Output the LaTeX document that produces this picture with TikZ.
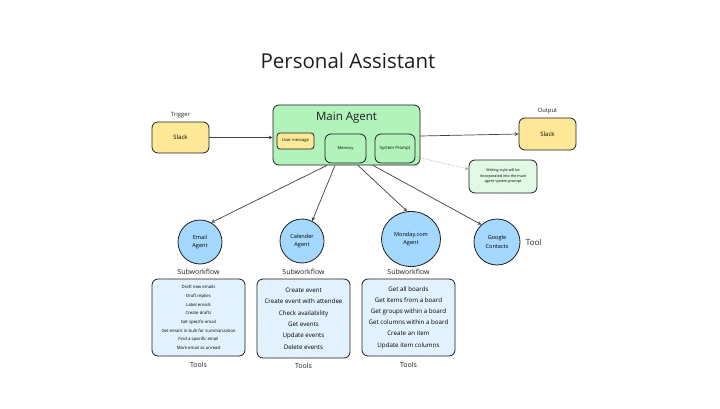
\documentclass[tikz,border=0pt]{standalone}
\usepackage{fontspec}
\setmainfont{Open Sans}
\usepackage{tikz}
\usetikzlibrary{arrows, shapes, shapes.geometric, positioning, patterns}

\definecolor{ink}{HTML}{1E1E1E}
\definecolor{slackyellow}{HTML}{FFE999}
\definecolor{agentgreen}{HTML}{B2F2BB}
\definecolor{notegreen}{HTML}{EBFBEE}
\definecolor{agentblue}{HTML}{A5D8FF}
\definecolor{listblue}{HTML}{EEF7FF}

\tikzset{
	box/.style={rectangle, draw=ink, line width=0.8pt, rounded corners=6, inner sep=1pt},
	slackbox/.style={box, fill=slackyellow, minimum width=57, minimum height=31, font=\fontsize{6}{7}\selectfont},
	agent/.style={circle, draw=ink, line width=0.8pt, fill=agentblue, minimum size=44, inner sep=0pt, align=center, font=\fontsize{5.6}{8.5}\selectfont},
	toollist/.style={box, preaction={fill=listblue}, pattern=north east lines, pattern color=agentblue!55, minimum width=93, minimum height=77, align=center},
	lbl/.style={font=\fontsize{5.8}{7}\selectfont, text=ink},
	sublbl/.style={font=\fontsize{7}{8}\selectfont, text=ink},
	link/.style={-stealth, draw=ink!85, line width=0.7pt},
}

\begin{document}
\begin{tikzpicture}[x=1pt, y=-1pt]
	\useasboundingbox (0,0) rectangle (720,409);

	\node[font=\fontsize{20.5}{24}\selectfont, text=ink] (title) at (348,61) {Personal Assistant};

	% trigger and output
	\node[slackbox] (trig) at (180.5,137.5) {Slack};
	\node[lbl, above=0pt of trig] (triglbl) {Trigger};
	\node[slackbox, minimum height=32] (out) at (547.5,134) {Slack};
	\node[lbl, above=0pt of out] (outlbl) {Output};

	% main agent
	\node[box, fill=agentgreen, minimum width=147, minimum height=60] (main) at (346.5,135) {};
	\node[font=\fontsize{11.5}{14}\selectfont, text=ink, below=4pt of main.north] (mainlbl) {Main Agent};
	\node[box, rounded corners=3, fill=slackyellow, minimum width=37, minimum height=16, font=\fontsize{4.1}{5}\selectfont] (msg) at (295.5,141) {User message};
	\node[box, minimum width=41, minimum height=29, font=\fontsize{4}{5}\selectfont] (mem) at (345.5,148.5) {Memory};
	\node[box, minimum width=40, minimum height=29, font=\fontsize{4.3}{5}\selectfont] (sys) at (395,148.5) {System Prompt};

	\node[box, preaction={fill=notegreen}, pattern=north east lines, pattern color=agentgreen!60, minimum width=68, minimum height=33, align=center, font=\fontsize{3.7}{5.5}\selectfont] (note) at (503,176.5) {Writing style will be\\incorporated into the main\\agent system prompt};

	\draw[link] (trig) -- (main.west |- trig);
	\draw[link] ([yshift=-1]main.east) -- (out.west);
	\draw[-stealth, densely dotted, draw=ink!40, line width=0.6pt] (sys.-22) -- (note.168);

	% sub agents
	\node[agent] (email) at (200,242) {Email\\Agent};
	\node[agent] (cal) at (302,241) {Calender\\Agent};
	\node[ellipse, draw=ink, line width=0.8pt, fill=agentblue, minimum width=59, minimum height=55, inner sep=0pt, align=center, font=\fontsize{5.6}{8.5}\selectfont] (monday) at (411,239) {Monday.com\\Agent};
	\node[agent, minimum size=46] (contacts) at (497,242) {Google\\Contacts};
	\node[font=\fontsize{8}{9}\selectfont, text=ink, right=2pt of contacts] (toollbl) {Tool};

	\draw[link] ([xshift=-19.5]main.south) -- (email.60);
	\draw[link] ([xshift=-11.5]main.south) -- (cal.63);
	\draw[link] ([xshift=11.5]main.south) -- (monday.98);
	\draw[link] ([xshift=26.5]main.south) -- (contacts.132);

	% tool lists
	\node[toollist, font=\fontsize{4.3}{8.7}\selectfont] (emaillist) at (198.5,317.5) {Draft new emails\\Draft replies\\Label emails\\Create drafts\\Get specific email\\Get emails in bulk for summarization\\Find a specific email\\Mark email as unread};
	\node[toollist, minimum height=79, font=\fontsize{6.2}{11.4}\selectfont] (callist) at (303.5,318.5) {Create event\\Create event with attendee\\Check availability\\Get events\\Update events\\Delete events};
	\node[toollist, font=\fontsize{6.2}{11.2}\selectfont] (mondaylist) at (408.5,317.5) {Get all boards\\Get items from a board\\Get groups within a board\\Get columns within a board\\Create an item\\Update item columns};

	\node[sublbl, above=1pt of emaillist] (emailsub) {Subworkflow};
	\node[sublbl, above=1pt of callist] (calsub) {Subworkflow};
	\node[sublbl, above=1pt of mondaylist] (mondaysub) {Subworkflow};
	\node[sublbl, below=2pt of emaillist] (emailtools) {Tools};
	\node[sublbl, below=1pt of callist] (caltools) {Tools};
	\node[sublbl, below=2pt of mondaylist] (mondaytools) {Tools};
\end{tikzpicture}
\end{document}
